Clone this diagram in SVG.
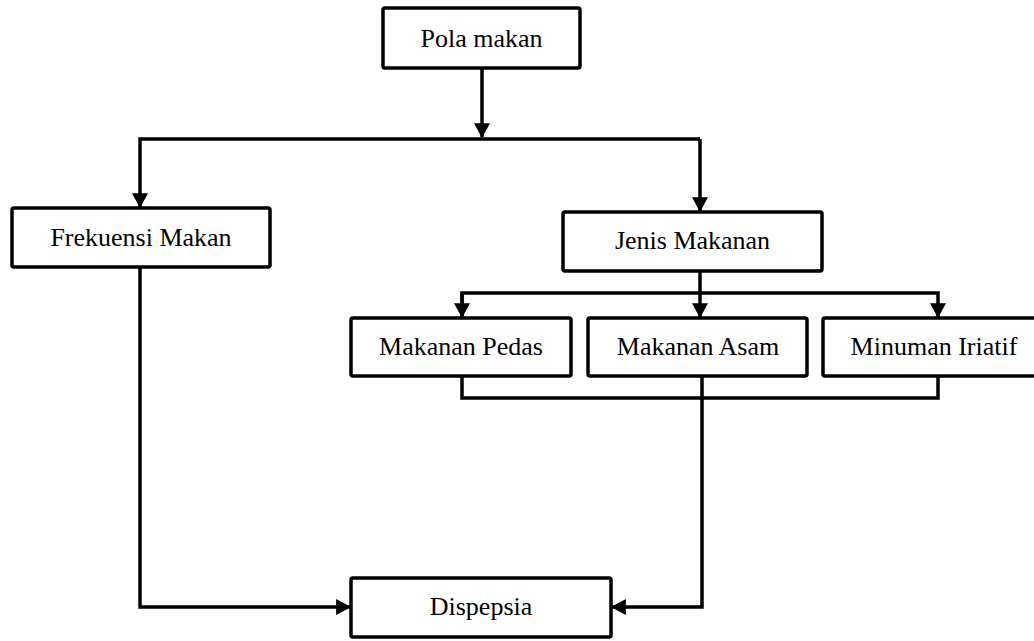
<svg xmlns="http://www.w3.org/2000/svg" width="1034" height="641" viewBox="0 0 1034 641">
<style>
.box{fill:#fff;stroke:#000;stroke-width:3.5}
.lbl{font-family:"Liberation Serif","Times New Roman",serif;font-size:26px;fill:#000;text-anchor:middle}
.con{fill:none;stroke:#000;stroke-width:3.5;stroke-linejoin:miter}
</style>
<defs>
<marker id="ah" markerUnits="userSpaceOnUse" markerWidth="16" markerHeight="16" refX="13" refY="7.5" orient="auto" viewBox="0 0 14 15">
<path d="M0,0 L14,7.5 L0,15 Z" fill="#000"/>
</marker>
</defs>
<rect width="1034" height="641" fill="#fff"/>
<g id="connectors">
<path class="con" d="M482,68 V137" marker-end="url(#ah)"/>
<path class="con" d="M700,139 H140 V207" marker-end="url(#ah)"/>
<path class="con" d="M700,139 V211" marker-end="url(#ah)"/>
<path class="con" d="M700,271 V317" marker-end="url(#ah)"/>
<path class="con" d="M462,317 V293 H938 V317" marker-end="url(#ah)"/>
<path class="con" d="M462,293 V317" marker-end="url(#ah)"/>
<path class="con" d="M462,376 V398 H938 V376"/>
<path class="con" d="M702,376 V607 H612" marker-end="url(#ah)"/>
<path class="con" d="M140,267 V607 H350" marker-end="url(#ah)"/>
</g>
<g id="pola-makan"><rect class="box" x="383" y="8" width="197" height="60" rx="2"/><text class="lbl" x="481.5" y="47">Pola makan</text></g>
<g id="frekuensi-makan"><rect class="box" x="12" y="208" width="258" height="59" rx="2"/><text class="lbl" x="141" y="246">Frekuensi Makan</text></g>
<g id="jenis-makanan"><rect class="box" x="563" y="212" width="259" height="59" rx="2"/><text class="lbl" x="692.5" y="249">Jenis Makanan</text></g>
<g id="makanan-pedas"><rect class="box" x="351" y="318" width="220" height="58" rx="2"/><text class="lbl" x="461" y="355">Makanan Pedas</text></g>
<g id="makanan-asam"><rect class="box" x="588" y="318" width="219" height="58" rx="2"/><text class="lbl" x="698" y="355">Makanan Asam</text></g>
<g id="minuman-iriatif"><rect class="box" x="823" y="318" width="222" height="58" rx="2"/><text class="lbl" x="934" y="355">Minuman Iriatif</text></g>
<g id="dispepsia"><rect class="box" x="351" y="578" width="260" height="59" rx="2"/><text class="lbl" x="481" y="615">Dispepsia</text></g>
</svg>
